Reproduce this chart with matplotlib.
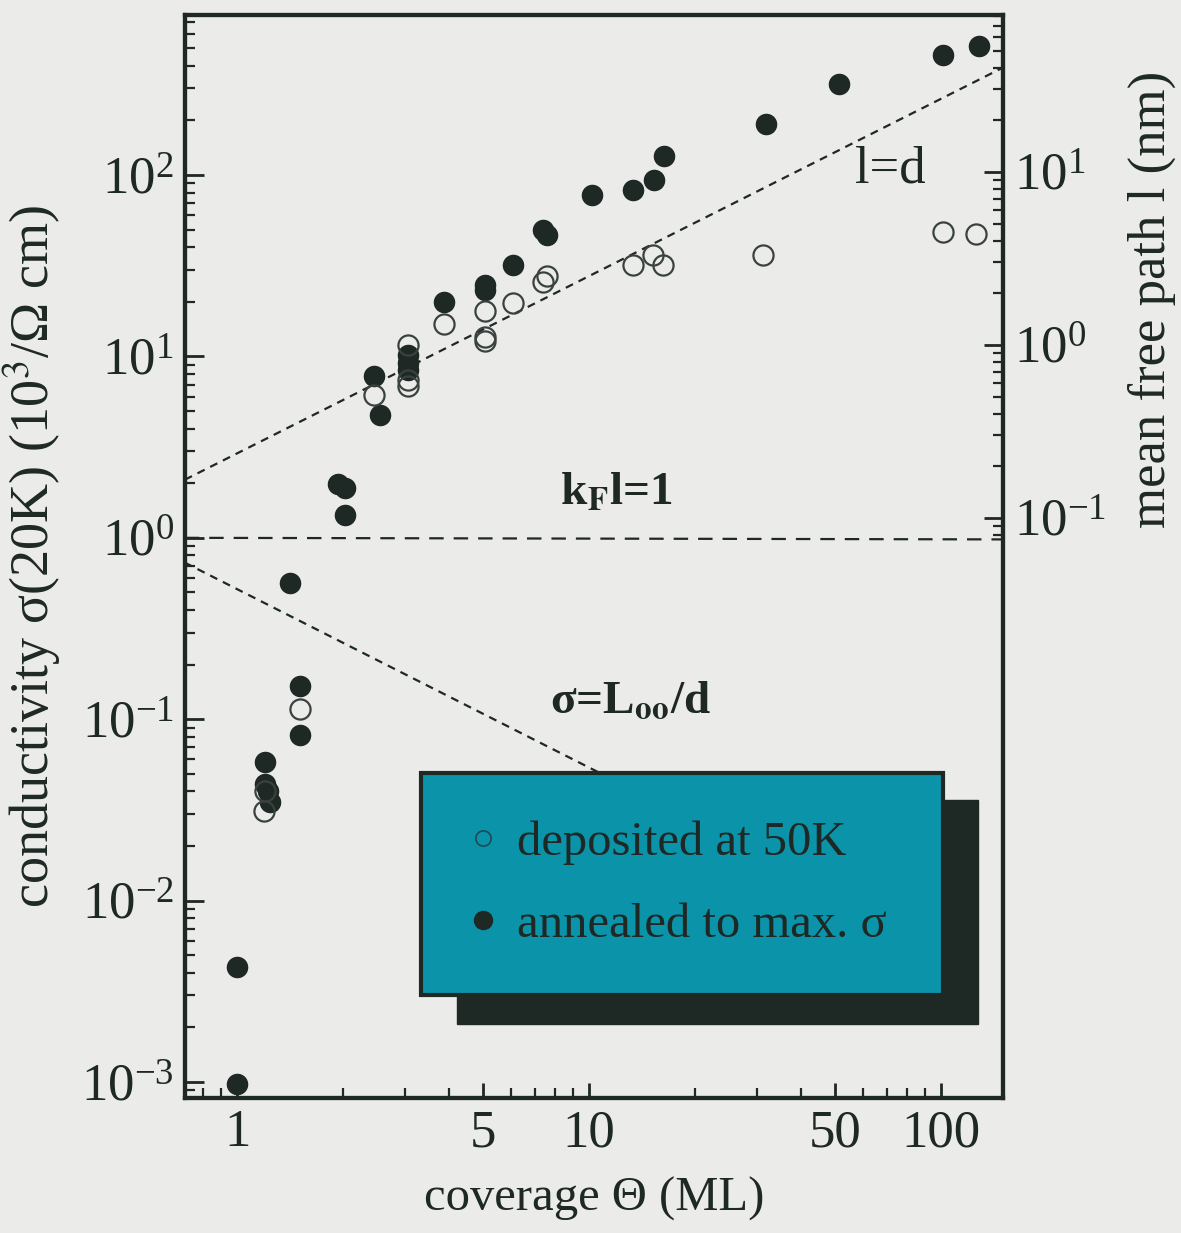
import numpy as np
import matplotlib
matplotlib.use('Agg')
import matplotlib.pyplot as plt
from matplotlib.patches import Rectangle
from matplotlib.ticker import LogLocator, LogFormatterMathtext, FixedLocator, NullFormatter

plt.rcParams['font.family'] = ['Liberation Serif', 'DejaVu Serif']
plt.rcParams['mathtext.fontset'] = 'stix'

# deposited at 50K (open circles)
open_x = [1.19, 1.20, 1.51, 2.45, 3.05, 3.05, 3.05, 3.87, 5.05, 5.05, 5.05,
          6.08, 7.4, 7.6, 13.3, 15.2, 16.2, 31.2, 101, 126]
open_y = [0.031, 0.040, 0.114, 6.15, 11.6, 7.4, 6.9, 15.0, 17.9, 12.8, 12.2,
          19.8, 25.8, 27.9, 32, 36.4, 32, 36.4, 48.7, 47]

# annealed to max. sigma (filled circles)
fill_x = [1.0, 1.0, 1.20, 1.20, 1.22, 1.24, 1.41, 1.51, 1.51, 1.94, 2.03, 2.03,
          2.45, 2.55, 3.05, 3.05, 3.05, 3.87, 5.05, 5.05, 6.08, 7.4, 7.6,
          10.2, 13.3, 15.3, 16.3, 31.8, 51.3, 101, 128]
fill_y = [0.00098, 0.0043, 0.058, 0.044, 0.040, 0.035, 0.565, 0.153, 0.082,
          1.99, 1.89, 1.34, 7.83, 4.77, 10.2, 9.2, 8.45, 20.0, 24.9, 23.3,
          32, 50, 46.9, 78, 83, 94, 128, 190, 319, 461, 517]

# reference lines (end points)
ld_x, ld_y = [0.71, 150], [2.09, 391]          # l = d
kf_x, kf_y = [0.71, 150], [1.0, 0.98]          # kF l = 1
lo_x, lo_y = [0.71, 60], [0.73, 0.0093]        # sigma = L_oo / d

xticks = [1, 5, 10, 50, 100]
xticklabels = ['1', '5', '10', '50', '100']
mfp_major = [0.1, 1, 10]
mfp_minor = [0.08, 0.09, 0.2, 0.3, 0.4, 0.5, 0.6, 0.7, 0.8, 0.9,
             2, 3, 4, 5, 6, 7, 8, 9, 20, 30, 40, 50, 60, 70, 80]

BG = '#ebecea'
INK = '#1e2824'
TEAL = '#0b93a9'
FS = 38      # tick labels
FT = 35      # horizontal texts

fig = plt.figure(figsize=(11.81, 12.33), dpi=100, facecolor=BG)
ax = fig.add_axes([185 / 1181, 135 / 1233, 818 / 1181, 1083 / 1233])
ax.set_facecolor(BG)
ax.set_xscale('log')
ax.set_yscale('log')
ax.set_xlim(0.711, 150)
ax.set_ylim(10 ** -3.088, 10 ** 2.882)

ax.plot(ld_x, ld_y, color=INK, lw=1.6, dashes=(3.6, 2.8), zorder=2)
ax.plot(kf_x, kf_y, color=INK, lw=1.6, dashes=(6.5, 4.5), zorder=2)
ax.plot(lo_x, lo_y, color=INK, lw=1.6, dashes=(3.6, 2.8), zorder=2)

ax.plot(fill_x, fill_y, 'o', ms=14.5, color=INK, mec=INK, zorder=3)
ax.plot(open_x, open_y, 'o', ms=14.5, mfc='none', mec='#3a4240', mew=1.6, zorder=4)

# axis styling
for s in ax.spines.values():
    s.set_linewidth(3)
    s.set_color(INK)
ax.yaxis.set_major_locator(LogLocator(base=10, numticks=20))
ax.yaxis.set_minor_locator(LogLocator(base=10, subs=np.arange(2, 10), numticks=20))
ax.yaxis.set_major_formatter(LogFormatterMathtext())
ax.yaxis.set_minor_formatter(NullFormatter())
ax.xaxis.set_major_locator(FixedLocator(xticks))
ax.set_xticklabels(xticklabels)
ax.xaxis.set_minor_locator(LogLocator(base=10, subs=np.arange(2, 10), numticks=20))
ax.xaxis.set_minor_formatter(NullFormatter())
ax.tick_params(which='major', direction='in', length=14, width=2, color=INK,
               labelsize=FS, labelcolor=INK, top=False, right=False, pad=8)
ax.tick_params(which='minor', direction='in', length=7, width=1.6, color=INK,
               top=False, right=False)
ax.tick_params(axis='x', which='major', length=11)

ax.set_xlabel('coverage \u0398 (ML)', fontsize=FT, color=INK, labelpad=14)
ax.set_ylabel('conductivity \u03c3(20K) (10$^3$/\u03a9 cm)', fontsize=39, color=INK, labelpad=12)

# right axis: mean free path
ax2 = ax.twinx()
ax2.set_yscale('log')
ax2.set_ylim(10 ** -4.353, 10 ** 1.9075)
ax2.yaxis.set_major_locator(FixedLocator(mfp_major))
ax2.yaxis.set_minor_locator(FixedLocator(mfp_minor))
ax2.yaxis.set_major_formatter(LogFormatterMathtext())
ax2.yaxis.set_minor_formatter(NullFormatter())
ax2.tick_params(which='major', direction='in', length=14, width=2, color=INK,
                labelsize=FS, labelcolor=INK, pad=8)
ax2.tick_params(which='minor', direction='in', length=7, width=1.6, color=INK)
for s in ax2.spines.values():
    s.set_linewidth(3)
    s.set_color(INK)
ax2.set_ylabel('mean free path l (nm)', fontsize=38, color=INK)
ax2.yaxis.set_label_coords(1.153, 0.737)

# annotations
ax.text(0.862, 0.845, 'l=d', transform=ax.transAxes, fontsize=FS, color=INK,
        ha='center', va='baseline')
ax.text(0.458, 0.5476, r'k$_{\mathbf{F}}$l=1', transform=ax.transAxes, fontsize=34,
        color=INK, fontweight='bold', ha='left', va='baseline')
ax.text(0.446, 0.3555, '\u03c3=L' + r'$_{\mathbf{oo}}$' + '/d',
        transform=ax.transAxes, fontsize=34, color=INK, fontweight='bold',
        ha='left', va='baseline')

# legend box with shadow
ax2.add_patch(Rectangle((0.3325, 0.0683), 0.9694 - 0.3325, 0.2752 - 0.0683,
                        transform=ax.transAxes, facecolor=INK, edgecolor=INK, zorder=10))
ax2.add_patch(Rectangle((0.2885, 0.0951), 0.9267 - 0.2885, 0.300 - 0.0951,
                        transform=ax.transAxes, facecolor=TEAL, edgecolor=INK, lw=3, zorder=11))
ax2.plot([0.364], [0.240], 'o', ms=11, mfc='none', mec='#1c4a55', mew=1.2,
         transform=ax.transAxes, zorder=12)
ax2.plot([0.364], [0.164], 'o', ms=13, color=INK, transform=ax.transAxes, zorder=12)
ax2.text(0.406, 0.224, 'deposited at 50K', transform=ax.transAxes, fontsize=FT,
         color=INK, ha='left', va='baseline', zorder=12)
ax2.text(0.406, 0.1487, 'annealed to max. \u03c3', transform=ax.transAxes, fontsize=FT,
         color=INK, ha='left', va='baseline', zorder=12)

fig.savefig('out.png', dpi=100, facecolor=BG)
